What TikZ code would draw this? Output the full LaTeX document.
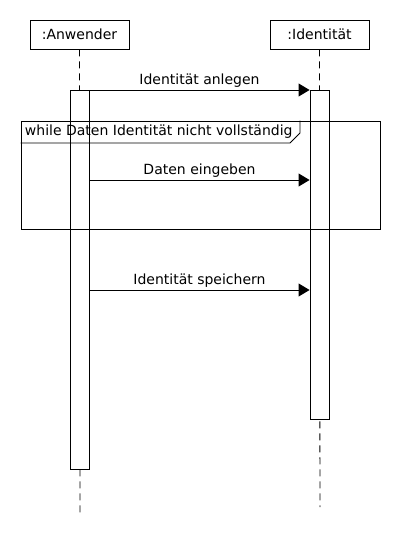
\documentclass[tikz,border=0pt]{standalone}
\usepackage{fontspec}
\setmainfont{DejaVu Sans}
\usetikzlibrary{arrows.meta, calc}

\begin{document}
\begin{tikzpicture}[x=1pt, y=-1pt, line width=0.9pt, font=\fontsize{14}{16}\selectfont,
	head/.style={draw, rectangle, minimum width=99pt, minimum height=29pt, inner sep=0pt},
	actbar/.style={draw, fill=white, rectangle, minimum width=19pt, inner sep=0pt},
	lifeline/.style={dash pattern=on 7pt off 5pt},
	msg/.style={-{Triangle[length=11pt, width=13pt]}}]
	\useasboundingbox (0,0) rectangle (400,560);

	\node[head] (anwender)  at (79.5,34.5)  {:Anwender};
	\node[head] (identitaet) at (319.5,34.5) {:Identität};

	\coordinate (anwenderend)  at (80,517);
	\coordinate (identitaetend) at (320,507);
	\draw[lifeline] (anwender.south) -- (anwenderend);
	\draw[lifeline] (identitaet.south) -- (identitaetend);

	\node[actbar, minimum height=379pt, anchor=north] (actanwender)  at (79.5,90) {};
	\node[actbar, minimum height=329pt, anchor=north] (actidentitaet) at (319.5,90) {};

	\coordinate (anlegen)   at (0,90);
	\coordinate (eingeben)  at (0,180);
	\coordinate (speichern) at (0,290);

	\draw[msg] (actanwender.east |- anlegen) -- node[above, inner sep=2pt] {Identität anlegen}
		(actidentitaet.west |- anlegen);
	\draw[msg] (actanwender.east |- eingeben) -- node[above, inner sep=2pt] {Daten eingeben}
		(actidentitaet.west |- eingeben);
	\draw[msg] (actanwender.east |- speichern) -- node[above, inner sep=2pt] {Identität speichern}
		(actidentitaet.west |- speichern);

	\node[draw, rectangle, minimum width=359pt, minimum height=108pt, inner sep=0pt,
		anchor=north west] (loopframe) at (20.5,120.5) {};
	\node[anchor=west, inner sep=0pt] (looplabel) at ($(loopframe.north west)+(4,11.5)$)
		{while Daten Identität nicht vollständig};
	\draw (loopframe.north west |- 0,143) -- (290,143) -- (300,133) -- (300,120.5);
\end{tikzpicture}
\end{document}
